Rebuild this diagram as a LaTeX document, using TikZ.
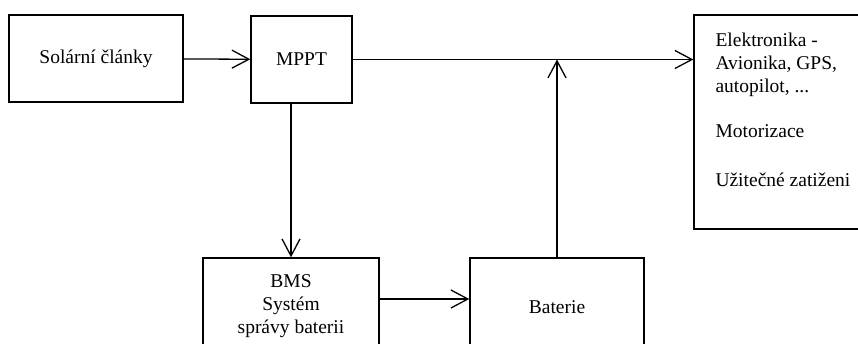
\documentclass[tikz,border=0pt]{standalone}
\usepackage{fontspec}
\setmainfont{LiberationSerif}[Extension=.ttf, UprightFont=*-Regular]
\usetikzlibrary{arrows.meta}

\begin{document}
\begin{tikzpicture}[x=1pt, y=-1pt, font=\fontsize{19.5}{23}\selectfont,
        blok/.style={draw, line width=1.4pt, inner sep=0pt, align=center},
        sipka/.style={line width=1.3pt, -{Straight Barb[length=17pt, width=18pt]}}]
        \clip (0,0) rectangle (858,343);

        % bloky
        \node[blok, minimum width=174, minimum height=87] (sol) at (96,58.5) {Solární články};
        \node[blok, minimum width=101, minimum height=87] (mppt) at (301.5,59.5) {MPPT};
        \node[blok, minimum width=186, minimum height=214] (elek) at (787,122) {};
        \node[anchor=north west, align=left, inner sep=0pt] (spotr) at ([xshift=22pt, yshift=-18pt]elek.north west)
            {Elektronika -\\Avionika, GPS,\\autopilot, ...\\[22pt]Motorizace\\[26pt]Užitečné zatiženi};
        \node[blok, minimum width=176, minimum height=96] (bms) at (291,306) {BMS\\Systém\\správy baterii};
        \node[blok, minimum width=174, minimum height=98] (bat) at (557,307) {Baterie};

        % spoje
        \draw[sipka] (sol) -- (mppt);
        \draw[sipka] (mppt.east) -- (mppt.east -| elek.west);
        \draw[sipka] (mppt.south -| bms.north) -- (bms.north);
        \draw[sipka] ([yshift=7pt]bms.east) -- ([yshift=7pt]bms.east -| bat.west);
        \draw[sipka] (bat.north) -- (bat.north |- mppt.east);
\end{tikzpicture}
\end{document}
